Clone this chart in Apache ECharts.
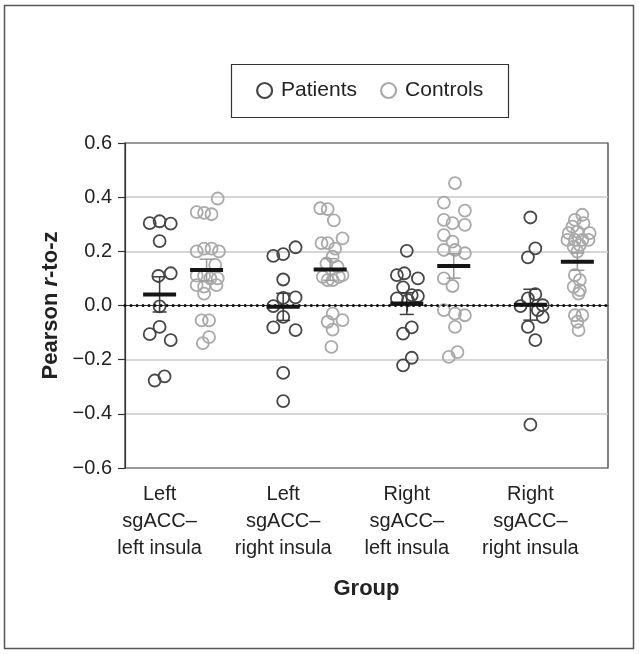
<!DOCTYPE html>
<html>
<head>
<meta charset="utf-8">
<script src="https://cdn.jsdelivr.net/npm/echarts@6/dist/echarts.min.js"></script>
<style>
html,body{margin:0;padding:0;background:#fff;}
#chart{width:639px;height:654px;}
</style>
</head>
<body>
<div id="chart"></div>
<script>
// ---------- data ----------
const categories = ['Left\nsgACC–\nleft insula', 'Left\nsgACC–\nright insula', 'Right\nsgACC–\nleft insula', 'Right\nsgACC–\nright insula'];
const groupPos = [1, 2, 3, 4];
const yTickLabels = ['−0.6', '−0.4', '−0.2', '0.0', '0.2', '0.4', '0.6'];

// Patients: values and horizontal jitter (axis units)
const patientsLL = [0.304, 0.311, 0.302, 0.238, 0.109, 0.119, -0.003, -0.079, -0.106, -0.128, -0.277, -0.262];
const patientsLLJit = [-0.08, 0, 0.09, 0, -0.01, 0.09, 0, 0, -0.08, 0.09, -0.04, 0.04];
const patientsLR = [0.183, 0.19, 0.215, 0.096, 0.028, 0.03, -0.002, -0.042, -0.081, -0.091, -0.249, -0.353];
const patientsLRJit = [-0.08, 0, 0.1, 0, 0, 0.1, -0.08, 0, -0.08, 0.1, 0, 0];
const patientsRL = [0.202, 0.112, 0.119, 0.1, 0.067, 0.026, 0.038, 0.035, 0.02, -0.081, -0.104, -0.193, -0.221];
const patientsRLJit = [0, -0.08, -0.02, 0.09, -0.03, -0.08, 0.04, 0.09, 0.01, 0.04, -0.03, 0.04, -0.03];
const patientsRR = [0.325, 0.211, 0.178, 0.042, 0.026, -0.002, 0.001, -0.017, -0.042, -0.079, -0.128, -0.44];
const patientsRRJit = [0, 0.04, -0.02, 0.04, -0.02, -0.08, 0.1, 0.06, 0.1, -0.02, 0.04, 0];

// Controls: values and horizontal jitter (axis units)
const controlsLL = [0.395, 0.345, 0.342, 0.337, 0.2, 0.21, 0.21, 0.2, 0.15, 0.11, 0.11, 0.1, 0.1, 0.075, 0.07, 0.075, 0.044, -0.055, -0.055, -0.139, -0.117];
const controlsLLJit = [0.09, -0.08, -0.02, 0.04, -0.08, -0.02, 0.04, 0.10, 0.07, -0.08, -0.02, 0.03, 0.09, -0.08, -0.02, 0.08, -0.02, -0.04, 0.02, -0.03, 0.02];
const controlsLR = [0.359, 0.356, 0.314, 0.248, 0.23, 0.23, 0.21, 0.18, 0.155, 0.143, 0.106, 0.094, 0.094, 0.106, 0.112, -0.03, -0.06, -0.054, -0.089, -0.153];
const controlsLRJit = [-0.08, -0.02, 0.03, 0.1, -0.07, -0.02, 0.04, 0.02, -0.03, 0.06, -0.06, -0.02, 0.02, 0.07, 0.1, 0.02, -0.02, 0.1, 0.02, 0.01];
const controlsRL = [0.452, 0.38, 0.35, 0.316, 0.304, 0.298, 0.26, 0.236, 0.205, 0.205, 0.193, 0.1, 0.072, -0.017, -0.03, -0.036, -0.079, -0.19, -0.172];
const controlsRLJit = [0.01, -0.08, 0.09, -0.08, -0.01, 0.09, -0.08, -0.01, -0.08, 0.01, 0.09, -0.08, -0.01, -0.08, 0.01, 0.09, 0.01, -0.04, 0.03];
const controlsRR = [0.335, 0.316, 0.304, 0.291, 0.267, 0.273, 0.267, 0.242, 0.242, 0.242, 0.242, 0.223, 0.217, 0.199, 0.112, 0.094, 0.069, 0.057, 0.044, -0.036, -0.036, -0.06, -0.091];
const controlsRRJit = [0.04, -0.02, 0.05, -0.04, -0.07, 0, 0.1, -0.08, -0.02, 0.04, 0.09, 0.02, -0.03, 0, -0.02, 0.02, -0.03, 0.02, 0.01, -0.02, 0.04, 0, 0.01];

// Group means and SEM
const patientMean = [0.041, -0.005, 0.007, 0.003];
const patientSem = [0.065, 0.05, 0.04, 0.057];
const controlMean = [0.131, 0.133, 0.146, 0.162];
const controlSem = [0.04, 0.04, 0.045, 0.032];

// ---------- build ----------
const controlOffset = 0.38;
const patientGroups = [[patientsLL, patientsLLJit], [patientsLR, patientsLRJit], [patientsRL, patientsRLJit], [patientsRR, patientsRRJit]];
const controlGroups = [[controlsLL, controlsLLJit], [controlsLR, controlsLRJit], [controlsRL, controlsRLJit], [controlsRR, controlsRRJit]];

function buildPoints(groups, offset) {
  const out = [];
  groups.forEach((g, i) => {
    g[0].forEach((v, k) => out.push([groupPos[i] + offset + g[1][k], v]));
  });
  return out;
}
const patientPts = buildPoints(patientGroups, 0);
const controlPts = buildPoints(controlGroups, controlOffset);
const patientStats = groupPos.map((p, i) => [p, patientMean[i], patientSem[i]]);
const controlStats = groupPos.map((p, i) => [p + controlOffset, controlMean[i], controlSem[i]]);

const FONT = "'Liberation Sans', Arial, Helvetica, sans-serif";
const DARK = '#474747';
const LIGHT = '#a9a9a9';

function statRenderer(errColor) {
  return function (params, api) {
    const x = api.value(0), m = api.value(1), s = api.value(2);
    const c = api.coord([x, m]);
    const t = api.coord([x, m + s]);
    const b = api.coord([x, m - s]);
    const lineStyle = { stroke: errColor, lineWidth: 1.5 };
    return {
      type: 'group',
      children: [
        { type: 'line', shape: { x1: c[0], y1: t[1], x2: c[0], y2: b[1] }, style: lineStyle },
        { type: 'line', shape: { x1: c[0] - 7, y1: t[1], x2: c[0] + 7, y2: t[1] }, style: lineStyle },
        { type: 'line', shape: { x1: c[0] - 7, y1: b[1], x2: c[0] + 7, y2: b[1] }, style: lineStyle },
        { type: 'line', shape: { x1: c[0] - 16.5, y1: c[1], x2: c[0] + 16.5, y2: c[1] }, style: { stroke: '#151515', lineWidth: 4 } }
      ]
    };
  };
}

const chart = echarts.init(document.getElementById('chart'), null, { renderer: 'canvas' });
chart.setOption({
  animation: false,
  backgroundColor: '#fff',
  textStyle: { fontFamily: FONT, color: '#222' },
  graphic: [
    { type: 'rect', shape: { x: 4.5, y: 5.5, width: 629, height: 643 }, style: { fill: 'none', stroke: '#555', lineWidth: 1.5 }, silent: true },
    { type: 'rect', shape: { x: 231.5, y: 64.5, width: 277, height: 53 }, style: { fill: 'none', stroke: '#333', lineWidth: 1.2 }, silent: true }
  ],
  legend: {
    left: 256,
    top: 80,
    padding: 0,
    itemWidth: 15,
    itemHeight: 15,
    itemGap: 23,
    selectedMode: false,
    textStyle: { fontFamily: FONT, fontSize: 21, color: '#222', padding: [0, 0, 0, 4] },
    data: [
      { name: 'Patients', icon: 'circle', itemStyle: { color: 'rgba(0,0,0,0)', borderColor: DARK, borderWidth: 2.2 } },
      { name: 'Controls', icon: 'circle', itemStyle: { color: 'rgba(0,0,0,0)', borderColor: LIGHT, borderWidth: 2.2 } }
    ]
  },
  grid: {
    left: 125, right: 31, top: 143, bottom: 186,
    show: true, borderColor: '#333', borderWidth: 1.2, backgroundColor: '#fff'
  },
  xAxis: {
    type: 'value',
    min: 0.72,
    max: 4.628,
    name: 'Group',
    nameLocation: 'middle',
    nameGap: 110,
    nameTextStyle: { fontFamily: FONT, fontSize: 22, fontWeight: 'bold', color: '#222' },
    axisLine: { show: true, lineStyle: { color: '#333', width: 1.2 } },
    axisTick: { show: true, customValues: groupPos, length: 6, lineStyle: { color: '#333', width: 1.2 } },
    axisLabel: {
      customValues: groupPos,
      margin: 13,
      fontFamily: FONT, fontSize: 20, color: '#222', lineHeight: 27, align: 'center',
      formatter: function (v) { const i = groupPos.indexOf(Math.round(v)); return i >= 0 ? categories[i] : ''; }
    },
    splitLine: { show: false }
  },
  yAxis: {
    type: 'value',
    min: -0.6,
    max: 0.6,
    interval: 0.2,
    name: 'Pearson {i|r}-to-z',
    nameLocation: 'middle',
    nameGap: 63,
    nameTextStyle: {
      fontFamily: FONT, fontSize: 22, fontWeight: 'bold', color: '#222',
      rich: { i: { fontFamily: FONT, fontSize: 22, fontWeight: 'bold', fontStyle: 'italic', color: '#222' } }
    },
    axisLine: { show: true, lineStyle: { color: '#333', width: 1.2 } },
    axisTick: { show: true, length: 7, lineStyle: { color: '#333', width: 1.2 } },
    axisLabel: {
      margin: 13, fontFamily: FONT, fontSize: 20, color: '#222',
      formatter: function (v) { return yTickLabels[Math.round((v + 0.6) / 0.2)]; }
    },
    splitLine: {
      show: true,
      lineStyle: { color: ['rgba(0,0,0,0)', '#c9c9c9', '#c9c9c9', 'rgba(0,0,0,0)', '#c9c9c9', '#c9c9c9', 'rgba(0,0,0,0)'], width: 1.5 }
    }
  },
  series: [
    {
      name: 'Patients', type: 'scatter', data: patientPts, symbol: 'circle', symbolSize: 12,
      itemStyle: { color: 'rgba(0,0,0,0)', borderColor: DARK, borderWidth: 1.8, opacity: 1 },
      z: 2
    },
    {
      name: 'Controls', type: 'scatter', data: controlPts, symbol: 'circle', symbolSize: 12,
      itemStyle: { color: 'rgba(0,0,0,0)', borderColor: LIGHT, borderWidth: 1.8, opacity: 1 },
      z: 2
    },
    {
      name: 'patientStats', type: 'custom', data: patientStats, renderItem: statRenderer('#3d3d3d'), z: 4, silent: true
    },
    {
      name: 'controlStats', type: 'custom', data: controlStats, renderItem: statRenderer('#9a9a9a'), z: 4, silent: true,
      markLine: {
        silent: true, symbol: 'none', animation: false,
        label: { show: false },
        lineStyle: { color: '#111', width: 3, type: [0.01, 6], cap: 'round' },
        data: [{ yAxis: 0 }]
      }
    }
  ]
});
</script>
</body>
</html>
